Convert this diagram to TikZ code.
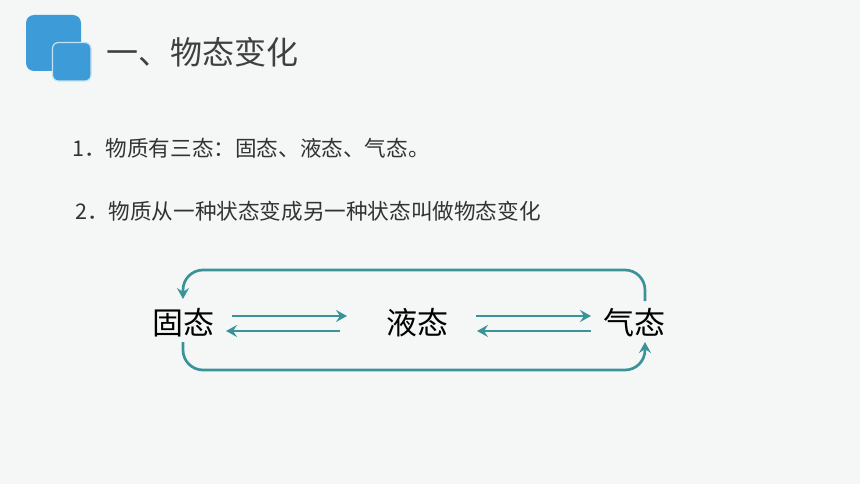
\documentclass[tikz,border=0pt]{standalone}
\usepackage{fontspec}
\setmainfont{Noto Sans CJK SC}
\usetikzlibrary{arrows.meta}
\definecolor{bgc}{HTML}{F5F7F7}
\definecolor{iconblue}{HTML}{3D9BD7}
\definecolor{iconedge}{HTML}{C4E2F4}
\definecolor{titlec}{HTML}{404040}
\definecolor{textc}{HTML}{333333}
\definecolor{teal}{HTML}{3A9398}
\tikzset{
  titletext/.style={anchor=west, inner sep=0pt, text=titlec, font=\fontsize{32}{32}\selectfont},
  itemtext/.style={anchor=west, inner sep=0pt, text=textc, font=\fontsize{21.6}{21.6}\selectfont},
  statetext/.style={inner sep=0pt, text=black, font=\fontsize{31}{31}\selectfont},
  conn/.style={draw=teal, line width=2.7pt, -{Stealth[length=11pt,width=12pt,inset=4pt]}},
  loopline/.style={conn, rounded corners=20pt}
}
\begin{document}
\begin{tikzpicture}[x=1pt,y=-1pt]
\fill[bgc] (0,0) rectangle (860,484);
\useasboundingbox (0,0) rectangle (860,484);
% icon
\fill[iconblue, rounded corners=8pt] (26,15) rectangle (81,71);
\filldraw[fill=iconblue, draw=iconedge, line width=1.2pt, rounded corners=6pt] (52.5,42.5) rectangle (91,81);
% title and text
\node[titletext] (title) at (106,52) {一、物态变化};
\node[itemtext] (l1) at (72,148) {1．物质有三态：固态、液态、气态。};
\node[itemtext] (l2) at (75,211) {2．物质从一种状态变成另一种状态叫做物态变化};
% states
\node[statetext] (gu) at (183,323) {固态};
\node[statetext] (ye) at (417,323) {液态};
\node[statetext] (qi) at (634,323) {气态};
% paired arrows
\draw[conn] ([shift={(49,-7)}]gu.center) -- ([shift={(-70,-7)}]ye.center);
\draw[conn] ([shift={(-77,8)}]ye.center) -- ([shift={(43,8)}]gu.center);
\draw[conn] ([shift={(59,-7)}]ye.center) -- ([shift={(-43,-7)}]qi.center);
\draw[conn] ([shift={(-43,8)}]qi.center) -- ([shift={(60,8)}]ye.center);
% loops
\draw[loopline] ([shift={(11,-22)}]qi.center) |- ([shift={(0,-53)}]gu.center) -- ([shift={(0,-24)}]gu.center);
\draw[loopline] ([shift={(0,19)}]gu.center) |- ([shift={(11,47)}]qi.center) -- ([shift={(11,19)}]qi.center);
\end{tikzpicture}
\end{document}
